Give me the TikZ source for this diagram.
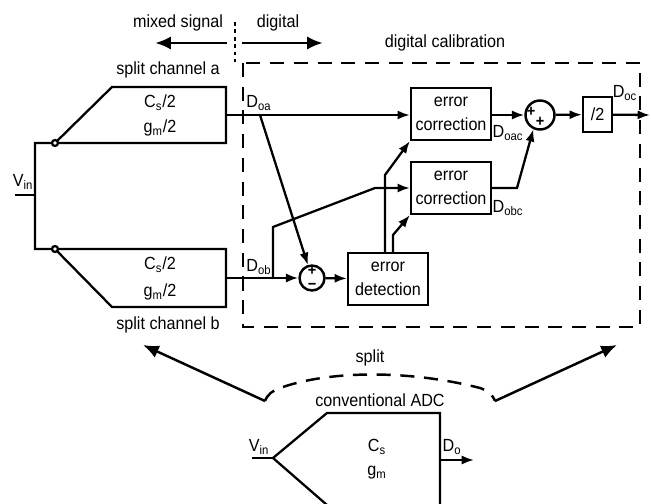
\documentclass[tikz,border=0pt]{standalone}
\usepackage{fontspec}
\setmainfont[FakeStretch=0.92]{Liberation Sans}
\usetikzlibrary{positioning,arrows.meta}
\tikzset{
  blk/.style={draw, line width=1.3pt, align=center, inner sep=0pt, minimum width=1.6cm, minimum height=1.04cm},
  junc/.style={draw, circle, line width=1.4pt, inner sep=0pt},
  wire/.style={line width=1.3pt},
  sig/.style={line width=1.3pt, -{Latex[length=7pt,width=5.2pt]}},
  big/.style={line width=1.6pt, -{Latex[length=9pt,width=7.5pt]}},
  fence/.style={line width=1.4pt, dash pattern=on 8pt off 5.5pt},
  lbl/.style={inner sep=0pt},
  sgn/.style={inner sep=0pt, font=\fontsize{9}{9}\bfseries}
}
\begin{document}
\begin{tikzpicture}[x=0.02cm, y=-0.02cm, font=\fontsize{10}{14}\selectfont]
  \useasboundingbox (0,0) rectangle (651,503);

  \node[lbl] (ms) at (178,23) {mixed signal};
  \node[lbl] (dg) at (278,23) {digital};
  \coordinate (ml) at (155,43);
  \coordinate (mr) at (227,43);
  \coordinate (dl) at (242,43);
  \coordinate (dr) at (323,43);
  \coordinate (st) at (235,22);
  \coordinate (sb) at (235,62);
  \draw[big] (mr) -- (ml);
  \draw[big] (dl) -- (dr);
  \draw[line width=1.4pt, dash pattern=on 2.2pt off 2pt] (st) -- (sb);

  \node[lbl] (cal) at (445,43) {digital calibration};
  \draw[fence] (243,63) rectangle (640,327);

  \node[lbl] (sca) at (168,70) {split channel a};
  \node[lbl] (scb) at (168,325) {split channel b};
  \coordinate (vi) at (15,195);
  \coordinate (vn) at (35,195);
  \coordinate (ja) at (55,143);
  \coordinate (jb) at (55,249);
  \draw[wire] (vi) -- (vn);
  \draw[wire] (ja) -- (112,87) -- (226,87) -- (226,143) -- (35,143) -- (35,249)
    -- (226,249) -- (226,307) -- (112,307) -- (jb);
  \draw[wire, fill=white] (ja) circle (1.7pt) (jb) circle (1.7pt);
  \node[lbl] (vin) at (23,182) {V\textsubscript{in}};
  \node[lbl] (csa) at (160,103) {C\textsubscript{s}/2};
  \node[lbl] (gma) at (160,128) {g\textsubscript{m}/2};
  \node[lbl] (csb) at (160,265) {C\textsubscript{s}/2};
  \node[lbl] (gmb) at (160,292) {g\textsubscript{m}/2};

  \coordinate (oa) at (226,115);
  \coordinate (ob) at (226,278);
  \coordinate (ta) at (260,115);
  \coordinate (tb) at (273,278);
  \node[lbl] (doa) at (259,103) {D\textsubscript{oa}};
  \node[lbl] (dob) at (259,267) {D\textsubscript{ob}};

  \node[blk] (eca) at (451,114) {error\\correction};
  \node[blk] (ecb) at (451,188) {error\\correction};
  \node[junc, minimum size=0.5cm] (sub) at (312,278) {};
  \node[sgn] (sp) at (312,271) {+};
  \node[sgn] (sm) at (312,286) {\textminus};
  \node[blk] (ed) at (388,279) {error\\detection};
  \node[junc, minimum size=0.58cm] (sum) at (540,115) {};
  \node[sgn] (s1) at (531,112) {+};
  \node[sgn] (s2) at (540,122) {+};
  \node[blk, minimum width=0.58cm, minimum height=0.7cm] (half) at (597.5,114.5) {/2};
  \node[lbl] (doac) at (508,133) {D\textsubscript{oac}};
  \node[lbl] (dobc) at (508,208) {D\textsubscript{obc}};
  \node[lbl] (doc) at (625,93) {D\textsubscript{oc}};
  \coordinate (out) at (650,115);

  \coordinate (k1) at (273,227);
  \coordinate (k2) at (375,188);
  \coordinate (k3) at (517,188);
  \coordinate (u1) at (385,175);
  \coordinate (u2) at (393,235);

  \draw[sig] (oa) -- (oa -| eca.west);
  \draw[sig] (ta) -- (sub);
  \draw[sig] (ob) -- (sub);
  \draw[sig] (tb) -- (k1) -- (k2) -- (k2 -| ecb.west);
  \draw[sig] (sub) -- (ed);
  \draw[sig] (ed.north -| u1) -- (u1) -- (eca.south west);
  \draw[sig] (ed.north -| u2) -- (u2) -- (ecb.south west);
  \draw[sig] (eca.east |- sum) -- (sum);
  \draw[sig] (ecb.east |- k3) -- (k3) -- (sum.-115);
  \draw[sig] (sum) -- (half);
  \draw[sig] (half) -- (out);

  \node[lbl] (spl) at (370,358) {split};
  \coordinate (bl) at (265,401);
  \coordinate (br) at (495,401);
  \coordinate (al) at (143,345);
  \coordinate (ar) at (617,345);
  \draw[fence] (bl) .. controls (268,394) and (272,391) .. (280,388)
    .. controls (330,370) and (410,370) .. (480,388)
    .. controls (488,391) and (492,394) .. (br);
  \draw[big, line width=1.4pt] (bl) -- (al);
  \draw[big, line width=1.4pt] (br) -- (ar);

  \node[lbl] (adc) at (380,400) {conventional ADC};
  \coordinate (cv) at (273,458);
  \coordinate (ci) at (252,458);
  \draw[wire] (327,505) -- (cv) -- (327,413) -- (440,413) -- (440,505);
  \draw[wire] (ci) -- (cv);
  \node[lbl] (vic) at (259,447) {V\textsubscript{in}};
  \node[lbl] (cs) at (377,447) {C\textsubscript{s}};
  \node[lbl] (gm) at (377,473) {g\textsubscript{m}};
  \coordinate (co) at (440,460);
  \coordinate (cd) at (474,460);
  \draw[sig] (co) -- (cd);
  \node[lbl] (do) at (452,447) {D\textsubscript{o}};
\end{tikzpicture}
\end{document}
